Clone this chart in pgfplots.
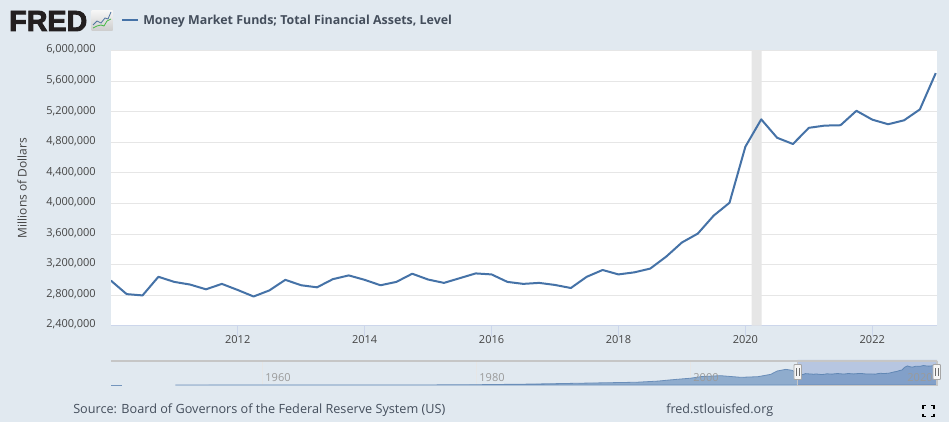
\documentclass[border=0pt]{standalone}
\usepackage{fontspec}
\usepackage{pgfplots}
\usepackage{pgfplotstable}
\pgfplotsset{compat=1.18}
\setmainfont{Open Sans}
\newfontfamily\fredfont[FakeBold=3]{Liberation Sans Bold}
\definecolor{bgc}{HTML}{E1E9F0}
\definecolor{linec}{HTML}{4572A7}
\definecolor{gridc}{HTML}{E6E6E6}
\definecolor{axc}{HTML}{CCD6EB}
\definecolor{txt}{HTML}{444444}
\definecolor{srct}{HTML}{444E5C}
\definecolor{selbg}{HTML}{B7C6E1}
\definecolor{selfill}{HTML}{82A0C9}
\definecolor{prefill}{HTML}{8FACCD}
\definecolor{navt}{HTML}{9A9A9A}
\definecolor{navb}{HTML}{C6C6C6}
\definecolor{logo}{HTML}{231F20}
\pgfplotstableread{
year value
2010.00 2991000
2010.25 2813000
2010.50 2796000
2010.75 3040000
2011.00 2973000
2011.25 2938000
2011.50 2876000
2011.75 2947000
2012.00 2867000
2012.25 2782000
2012.50 2862000
2012.75 3000000
2013.00 2929000
2013.25 2902000
2013.50 3009000
2013.75 3058000
2014.00 3000000
2014.25 2929000
2014.50 2973000
2014.75 3080000
2015.00 3004000
2015.25 2960000
2015.50 3022000
2015.75 3084000
2016.00 3071000
2016.25 2973000
2016.50 2947000
2016.75 2960000
2017.00 2933000
2017.25 2893000
2017.50 3040000
2017.75 3129000
2018.00 3071000
2018.25 3098000
2018.50 3147000
2018.75 3302000
2019.00 3489000
2019.25 3605000
2019.50 3840000
2019.75 4009000
2020.00 4743000
2020.25 5101000
2020.50 4860000
2020.75 4778000
2021.00 4990000
2021.25 5019000
2021.50 5024000
2021.75 5213000
2022.00 5097000
2022.25 5037000
2022.50 5088000
2022.75 5231000
2023.00 5706000
}\mainT
\pgfplotstableread{
year value
1951.9 0
1960 2000
1970 5000
1975 10000
1980 76000
1985 240000
1990 490000
1995 740000
1997 1050000
1998 1330000
1999 1580000
2000 1810000
2001 2240000
2002.8 2490000
2004.7 2050000
2006.3 2220000
2007.5 2850000
2008.1 3740000
2008.9 4180000
2009.5 3920000
2010.0 2991000
}\preT
\begin{document}
\begin{tikzpicture}[x=0.75pt,y=0.75pt]
\fill[bgc] (0,0) rectangle (949,422);
\foreach \x in {262,476,690} \draw[gridc,line width=0.5pt] (\x,60.5) -- (\x,37);
% main chart
\begin{axis}[
  at={(83.25pt,72.25pt)},anchor=south west,scale only axis,width=619.5pt,height=206.25pt,
  xmin=2010.003,xmax=2023.02,ymin=2400000,ymax=6000000,
  axis background/.style={fill=white},
  axis x line*=bottom,axis y line*=left,
  x axis line style={draw=axc,line width=0.75pt,-},
  y axis line style={draw=none,-},
  xtick={2012,2014,2016,2018,2020,2022},
  xticklabels={2012,2014,2016,2018,2020,2022},
  ytick={2400000,2800000,3200000,3600000,4000000,4400000,4800000,5200000,5600000,6000000},
  yticklabels={{2,400,000},{2,800,000},{3,200,000},{3,600,000},{4,000,000},{4,400,000},{4,800,000},{5,200,000},{5,600,000},{6,000,000}},
  scaled y ticks=false,
  ymajorgrids,grid style={draw=gridc,line width=0.75pt},
  tick align=outside,major tick length=7.5pt,
  xtick style={draw=axc,line width=0.75pt},
  ytick style={draw=none},
  tick label style={font=\fontsize{8.25}{10}\selectfont,text=txt},
  yticklabel style={anchor=east,inner sep=0pt,xshift=-3.75pt,yshift=0.75pt},
  xticklabel style={anchor=center,inner sep=0pt,yshift=-2.6pt},
]
\addplot[draw=none,fill=gridc] coordinates {(2020.1,2400000)(2020.1,6000000)(2020.258,6000000)(2020.258,2400000)} \closedcycle;
\addplot[linec,line width=1.5pt,line join=round] table[x=year,y=value] {\mainT};
\end{axis}
% navigator
\begin{axis}[
  at={(83.25pt,27.75pt)},anchor=south west,scale only axis,width=619.5pt,height=18.75pt,
  xmin=1945.9,xmax=2023.02,ymin=0,ymax=6680000,hide axis,
]
\addplot[draw=none,fill=selbg] coordinates {(2010,0)(2010,6680000)(2023.02,6680000)(2023.02,0)} \closedcycle;
\addplot[draw=linec!75,line width=0.6pt] coordinates {(1945.9,20000)(1946.9,20000)};
\addplot[draw=linec!80,line width=0.6pt,fill=prefill] table[x=year,y=value] {\preT} \closedcycle;
\addplot[draw=linec!85,line width=0.6pt,fill=selfill] table[x=year,y=value] {\mainT} \closedcycle;
\end{axis}
% navigator frame and labels
\draw[navb,line width=0.9pt] (111,61) -- (937,61);
\draw[navb,line width=0.9pt] (797.3,61) -- (797.3,36.5) -- (937,36.5) -- (937,61);
\foreach \x/\t in {278/1960,492/1980,706/2000,920/2020}
  \node[text=navt,font=\fontsize{8.25}{10}\selectfont,inner sep=0pt] at (\x,44) {\t};
\foreach \x in {797.7,936.7}{
  \draw[fill=white!96!black,draw=gray!70,line width=0.6pt,rounded corners=0.6pt] (\x-3.8,57.5) rectangle (\x+3.8,42.5);
  \draw[gray!85!black,line width=0.6pt] (\x-1.2,54) -- (\x-1.2,46) (\x+1.2,54) -- (\x+1.2,46);
}
% header
\node[anchor=west,inner sep=0pt,text=logo] at (9,401) {\resizebox{58.5pt}{15pt}{\fredfont FRED}};
\shade[top color=gray!8,bottom color=gray!40] (91.5,391) rectangle (112.5,411);
\draw[linec!80!gray,line width=0.6pt] (93,397) -- (97,401) -- (101,399) -- (105,404) -- (108,403) -- (111,410);
\draw[green!45!gray,line width=0.6pt] (93,394) -- (97,396) -- (101,397) -- (104,396) -- (107,401) -- (111,403);
\draw[linec,line width=1.5pt] (122,401.5) -- (138,401.5);
\node[anchor=west,inner sep=0pt,text=srct,font=\fontsize{9.3}{11}\bfseries\selectfont] at (143,400.5) {Money Market Funds; Total Financial Assets, Level};
% y label
\node[rotate=90,inner sep=0pt,text=txt,font=\fontsize{9}{11}\selectfont] at (22,234) {Millions of Dollars};
% footer
\node[anchor=west,inner sep=0pt,text=srct,font=\fontsize{9.5}{11}\selectfont] at (73,12) {Source: Board of Governors of the Federal Reserve System (US)};
\node[anchor=west,inner sep=0pt,text=srct,font=\fontsize{9.4}{11}\selectfont] at (666,12) {fred.stlouisfed.org};
% fullscreen icon
\draw[black,line width=1.2pt]
 (923,13.5) -- (923,16.5) -- (926,16.5)
 (931,16.5) -- (934,16.5) -- (934,13.5)
 (934,8.5) -- (934,5.5) -- (931,5.5)
 (926,5.5) -- (923,5.5) -- (923,8.5);
\pgfresetboundingbox
\path[use as bounding box] (0,0) rectangle (949,422);
\end{tikzpicture}
\end{document}
